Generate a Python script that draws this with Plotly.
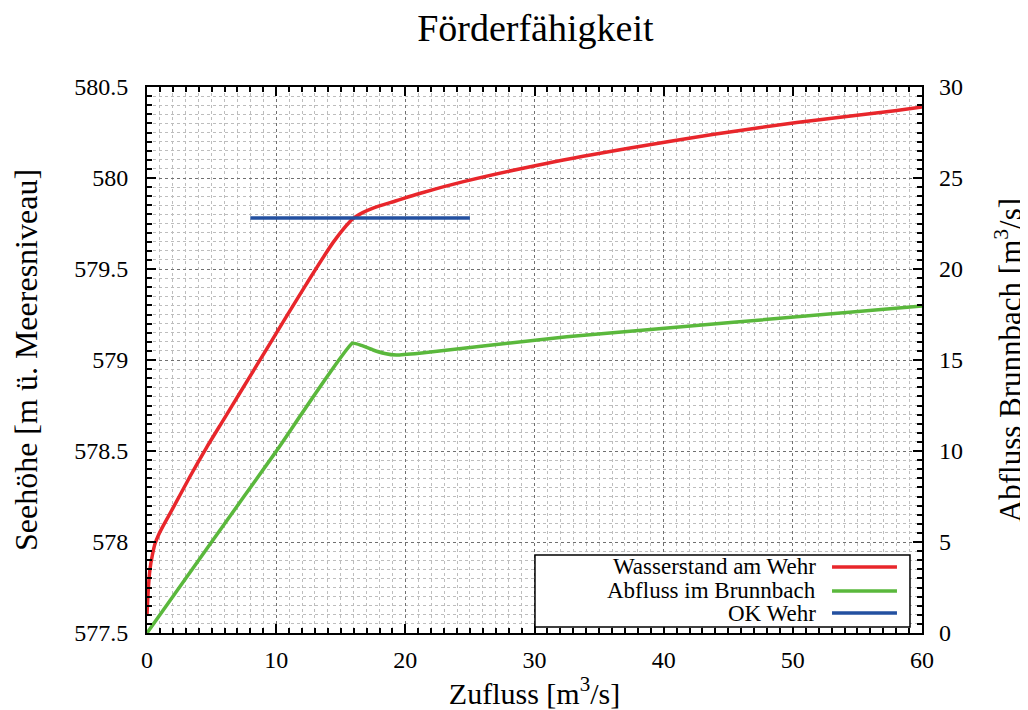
import plotly.graph_objects as go

# Data
red_x = [0, 0.1, 0.23, 0.42, 0.62, 0.9, 1.26, 2.04, 3.33, 4.62, 5.91, 7.2, 8.49, 9.78, 10.8,
         12.36, 14.4, 15.7, 16.1, 16.7, 17.5, 19.3, 21.1, 24.5, 30.9, 37.4, 43.9, 50.3, 57.9, 60]
red_y = [577.6, 577.74, 577.85, 577.93, 577.99, 578.04, 578.09, 578.19, 578.36, 578.52,
         578.67, 578.82, 578.97, 579.12, 579.24, 579.42, 579.645, 579.76, 579.785, 579.81,
         579.835, 579.875, 579.915, 579.98, 580.08, 580.165, 580.24, 580.305, 580.37, 580.39]

green_x = [0, 5, 10, 15.9, 16.6, 17.5, 18.4, 19.3, 21.1, 32.5, 45.4, 60]
green_y = [0, 5.0, 9.98, 15.92, 15.8, 15.55, 15.36, 15.27, 15.37, 16.28, 17.07, 17.97]

blue_x = [8, 25]
blue_y = [579.78, 579.78]

series_names = ["Wasserstand am Wehr", "Abfluss im Brunnbach", "OK Wehr"]
colors = ["#e8262b", "#5ab83c", "#2350a0"]

FONT = "Liberation Serif"

fig = go.Figure()
fig.add_trace(go.Scatter(x=red_x, y=red_y, mode="lines", name=series_names[0],
                         line=dict(color=colors[0], width=3.5, shape="spline", smoothing=0.6),
                         yaxis="y"))
fig.add_trace(go.Scatter(x=green_x, y=green_y, mode="lines", name=series_names[1],
                         line=dict(color=colors[1], width=3.5, shape="spline", smoothing=0.4),
                         yaxis="y2"))
fig.add_trace(go.Scatter(x=blue_x, y=blue_y, mode="lines", name=series_names[2],
                         line=dict(color=colors[2], width=3.5), yaxis="y"))

grid_minor = dict(showgrid=True, gridcolor="#bdbdbd", griddash="dot", gridwidth=1)
tickfont = dict(family=FONT, size=24, color="black")

# The page body has an 8px margin, so the figure is offset by 8px in x and y
fig.update_layout(
    width=1020, height=702,
    margin=dict(l=139, r=106, t=79, b=77, autoexpand=False),
    paper_bgcolor="white", plot_bgcolor="white",
    showlegend=False,
    font=dict(family=FONT, color="black", size=23),
    title=dict(text="Förderfähigkeit", x=0.517, xanchor="center", y=0.972, yanchor="middle",
               font=dict(family=FONT, size=38, color="black")),
    xaxis=dict(
        range=[0, 60], dtick=10, tick0=0,
        showline=True, linecolor="black", linewidth=2, mirror="ticks",
        ticks="inside", ticklen=9, tickwidth=1.5, tickcolor="black",
        showgrid=True, gridcolor="#707070", griddash="dot", gridwidth=1,
        minor=dict(dtick=1, ticks="inside", ticklen=5, tickcolor="black", **grid_minor),
        zeroline=False, automargin=False,
        tickfont=tickfont, ticklabelstandoff=4,
        title=dict(text="Zufluss [m<sup>3</sup>/s]", font=dict(family=FONT, size=30), standoff=2),
    ),
    yaxis=dict(
        range=[577.5, 580.5], dtick=0.5, tick0=577.5,
        showline=True, linecolor="black", linewidth=2, mirror=True,
        ticks="inside", ticklen=9, tickwidth=1.5, tickcolor="black",
        showgrid=True, gridcolor="#707070", griddash="dot", gridwidth=1,
        minor=dict(dtick=0.05, ticks="inside", ticklen=5, tickcolor="black", **grid_minor),
        zeroline=False, automargin=False,
        tickfont=tickfont, ticklabelstandoff=12,
        title=dict(text="Seehöhe [m ü. Meeresniveau]", font=dict(family=FONT, size=32), standoff=28),
    ),
    yaxis2=dict(
        range=[0, 30], dtick=5, tick0=0,
        overlaying="y", side="right",
        showline=False,
        ticks="inside", ticklen=9, tickwidth=1.5, tickcolor="black",
        showgrid=False,
        minor=dict(dtick=0.5, ticks="inside", ticklen=5, tickcolor="black", showgrid=False),
        zeroline=False, automargin=False,
        tickfont=tickfont, ticklabelstandoff=16,
        title=dict(text="Abfluss Brunnbach [m<sup>3</sup>/s]", font=dict(family=FONT, size=31), standoff=38),
    ),
)

# Legend drawn in the gnuplot style: text right-aligned, sample line on the right
box = dict(x0=0.5006, x1=0.9845, y0=0.011, y1=0.1429)
fig.add_shape(type="rect", xref="paper", yref="paper", **box,
              line=dict(color="black", width=1.5), fillcolor="white", layer="above")
rows_y = [0.1209, 0.0770, 0.0366]
for name, col, ry in zip(series_names, colors, rows_y):
    fig.add_annotation(x=0.8645, y=ry, xref="paper", yref="paper", text=name,
                       showarrow=False, xanchor="right", yanchor="middle", borderpad=0,
                       font=dict(family=FONT, size=23, color="black"))
    fig.add_shape(type="line", xref="paper", yref="paper", x0=0.8839, x1=0.9677,
                  y0=ry, y1=ry, line=dict(color=col, width=3.5), layer="above")

fig.write_html("out.html")
